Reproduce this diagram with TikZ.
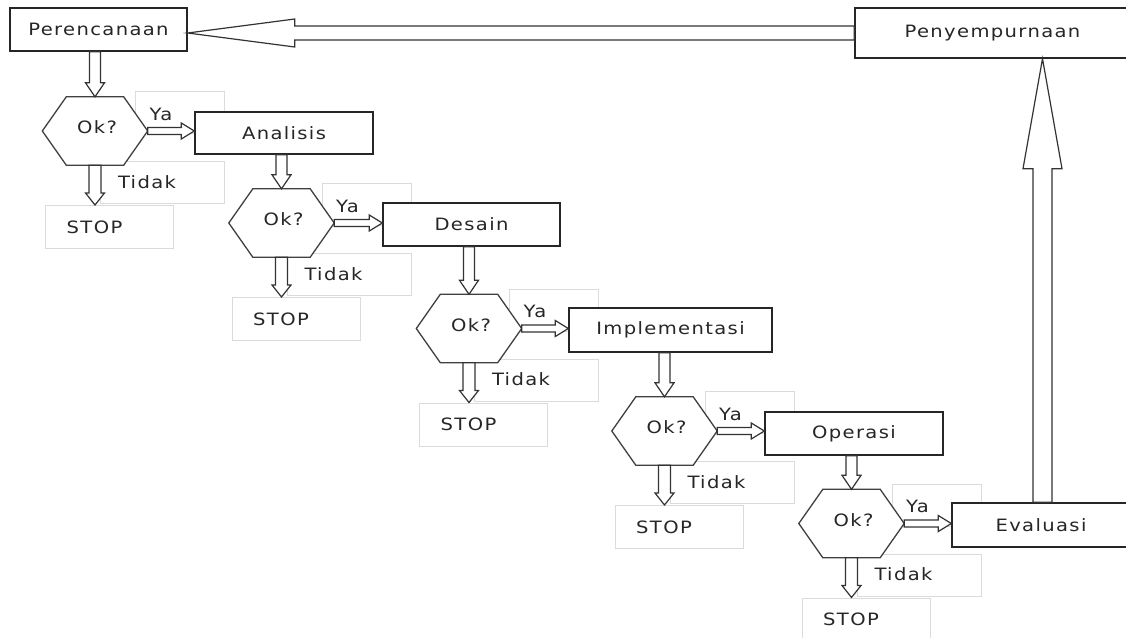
\documentclass[tikz,border=0pt]{standalone}
\usepackage{fontspec}
\setmainfont{DejaVu Sans}[LetterSpace=8, FakeStretch=1.15]
\usetikzlibrary{calc}

\tikzset{
  x=1pt, y=-1pt,
  every node/.style={font=\fontsize{17}{20}\selectfont, text=black!85},
  mainbox/.style={draw=black!85, line width=1.4pt, fill=white, inner sep=0pt},
  graybox/.style={draw=black!14, line width=1.3pt, fill=white, inner sep=0pt},
  hexframe/.style={minimum width=105pt, minimum height=68pt, inner sep=0pt},
  hexline/.style={draw=black!75, line width=1.3pt, fill=white, line join=miter},
  blockarrow/.style={draw=black!80, line width=1.2pt, fill=white, line join=miter},
  lbl/.style={inner sep=0pt},
}

% outlined block arrows: from, to, shaft half width, head half width, head length
\newcommand\arrdown[5]{%
  \draw[blockarrow] let \p1=(#1), \p2=(#2) in
    (\x1-#3,\y1) -- (\x1-#3,\y2+#5) -- (\x1-#4,\y2+#5) -- (\x1,\y2)
    -- (\x1+#4,\y2+#5) -- (\x1+#3,\y2+#5) -- (\x1+#3,\y1) -- cycle;}
\newcommand\arrup[5]{%
  \draw[blockarrow] let \p1=(#1), \p2=(#2) in
    (\x1-#3,\y1) -- (\x1-#3,\y2-#5) -- (\x1-#4,\y2-#5) -- (\x1,\y2)
    -- (\x1+#4,\y2-#5) -- (\x1+#3,\y2-#5) -- (\x1+#3,\y1) -- cycle;}
\newcommand\arrright[5]{%
  \draw[blockarrow] let \p1=(#1), \p2=(#2) in
    (\x1,\y1+#3) -- (\x2-#5,\y1+#3) -- (\x2-#5,\y1+#4) -- (\x2,\y1)
    -- (\x2-#5,\y1-#4) -- (\x2-#5,\y1-#3) -- (\x1,\y1-#3) -- cycle;}
\newcommand\arrleft[5]{%
  \draw[blockarrow] let \p1=(#1), \p2=(#2) in
    (\x1,\y1+#3) -- (\x2+#5,\y1+#3) -- (\x2+#5,\y1+#4) -- (\x2,\y1)
    -- (\x2+#5,\y1-#4) -- (\x2+#5,\y1-#3) -- (\x1,\y1-#3) -- cycle;}

% one decision step: label boxes, hexagon and its texts
\newcommand\decision[3]{%
  \coordinate (c#1) at (#2,#3);
  \node[graybox, minimum width=89pt, minimum height=42pt, anchor=north west]
    (yabox#1) at ($(c#1)+(40,-40)$) {};
  \node[graybox, minimum width=124pt, minimum height=42pt, anchor=north west]
    (tidakbox#1) at ($(c#1)+(5,30)$) {};
  \node[graybox, minimum width=128pt, minimum height=43pt, anchor=north west]
    (stop#1) at ($(c#1)+(-50,74)$) {};
  \node[lbl] (ya#1) at ($(c#1)+(66,-17)$) {Ya};
  \node[lbl] (tidak#1) at ($(c#1)+(52,51)$) {Tidak};
  \node[lbl] (stoptext#1) at ($(c#1)+(-0.5,96)$) {STOP};
  \node[hexframe] (h#1) at (c#1) {};
  \draw[hexline] (h#1.west) -- ([xshift=24pt]h#1.north west)
    -- ([xshift=-24pt]h#1.north east) -- (h#1.east)
    -- ([xshift=-24pt]h#1.south east) -- ([xshift=24pt]h#1.south west) -- cycle;
  \node[lbl] (ok#1) at ($(c#1)+(2,-3.5)$) {Ok?};
}

\begin{document}
\begin{tikzpicture}
\fill[white] (0,0) rectangle (1126,637);
\useasboundingbox (0,0) rectangle (1126,637);

\decision{1}{95}{131}
\decision{2}{281.5}{223}
\decision{3}{469}{328.5}
\decision{4}{664.5}{431}
\decision{5}{851.5}{523.5}

\node[mainbox, minimum width=177pt, minimum height=43pt] (Perencanaan) at (98.5,29.5) {Perencanaan};
\node[mainbox, minimum width=275pt, minimum height=50pt] (Penyempurnaan) at (992.5,33) {Penyempurnaan};
\node[mainbox, minimum width=178pt, minimum height=42pt] (Analisis) at (284,133) {Analisis};
\node[mainbox, minimum width=177pt, minimum height=43pt] (Desain) at (471.5,224.5) {Desain};
\node[mainbox, minimum width=203pt, minimum height=44pt] (Implementasi) at (670.5,330) {Implementasi};
\node[mainbox, minimum width=178pt, minimum height=43pt] (Operasi) at (854,433.5) {Operasi};
\node[mainbox, minimum width=178pt, minimum height=44pt] (Evaluasi) at (1041,525) {Evaluasi};

% box -> decision
\arrdown{Perencanaan.south -| h1.north}{h1.north}{5.5pt}{9.5pt}{14pt}
\arrdown{Analisis.south -| h2.north}{h2.north}{5.5pt}{9.5pt}{14pt}
\arrdown{Desain.south -| h3.north}{h3.north}{5.5pt}{9.5pt}{14pt}
\arrdown{Implementasi.south -| h4.north}{h4.north}{5.5pt}{9.5pt}{14pt}
\arrdown{Operasi.south -| h5.north}{h5.north}{5.5pt}{9.5pt}{14pt}

% decision -> STOP
\foreach \i in {1,...,5}{
  \arrdown{h\i.south}{h\i.south |- stop\i.north}{6pt}{9.5pt}{12pt}
}

% decision -> next step
\arrright{h1.east}{Analisis.west}{3.5pt}{8pt}{13pt}
\arrright{h2.east}{Desain.west}{3.5pt}{8pt}{13pt}
\arrright{h3.east}{Implementasi.west}{3.5pt}{8pt}{13pt}
\arrright{h4.east}{Operasi.west}{3.5pt}{8pt}{13pt}
\arrright{h5.east}{Evaluasi.west}{3.5pt}{8pt}{13pt}

% feedback loop
\coordinate (upfoot) at ([xshift=1.5pt]Evaluasi.north);
\arrup{upfoot}{Penyempurnaan.south}{9.5pt}{19.5pt}{110pt}
\arrleft{Penyempurnaan.west}{Perencanaan.east}{7pt}{14pt}{107pt}
\end{tikzpicture}
\end{document}
